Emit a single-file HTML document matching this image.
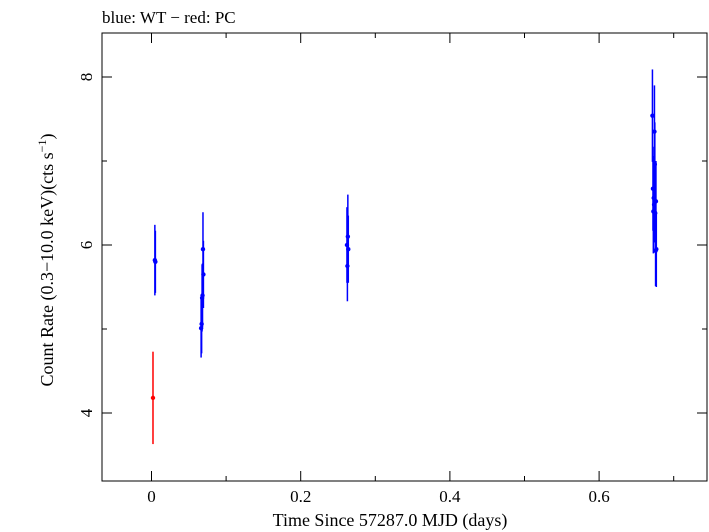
<!DOCTYPE html>
<html><head><meta charset="utf-8"><style>
body{margin:0;background:#fff;}
svg{display:block;font-family:"Liberation Serif",serif;}
</style></head><body>
<svg id="chart" width="709" height="532">
<text x="102" y="23" font-size="17">blue: WT − red: PC</text>
<rect x="102" y="33" width="605" height="448" fill="none" stroke="#000" stroke-width="1"/>
<g id="axes"></g>
<g id="marks"></g>
<text x="390" y="526" font-size="18" text-anchor="middle">Time Since 57287.0 MJD (days)</text>
<text transform="translate(53,260) rotate(-90)" font-size="18" text-anchor="middle">Count Rate (0.3−10.0 keV)(cts s<tspan dy="-7" font-size="12">−1</tspan><tspan dy="7">)</tspan></text>
</svg>
<script>
const wtTimes=[0.0045,0.0052,0.0665,0.0672,0.0678,0.0684,0.0690,0.0696,0.2620,0.2626,0.2632,0.2638,0.6715,0.6722,0.6727,0.6732,0.6737,0.6742,0.6747,0.6752,0.6757,0.6762,0.6767];
const wtRates=[5.82,5.80,5.01,5.06,5.37,5.40,5.95,5.65,6.00,5.75,6.10,5.95,7.54,6.67,6.40,6.56,6.48,7.35,6.96,6.38,5.93,6.52,5.95];
const wtErrs=[0.42,0.37,0.35,0.35,0.40,0.38,0.44,0.40,0.45,0.42,0.50,0.40,0.55,0.50,0.50,0.50,0.45,0.55,0.50,0.45,0.42,0.48,0.45];
const pcTimes=[0.0020];
const pcRates=[4.18];
const pcErrs=[0.55];
const xTicks=[0,0.2,0.4,0.6];
const xMinor=[0.1,0.3,0.5,0.7];
const yTicks=[4,6,8];
const yMinor=[5,7];
const NS="http://www.w3.org/2000/svg";
const X=v=>151.5+v*746;
const Y=v=>245-(v-6)*84;
const axes=document.getElementById('axes'), marks=document.getElementById('marks');
function mk(tag,attrs,parent){const e=document.createElementNS(NS,tag);for(const k in attrs)e.setAttribute(k,attrs[k]);parent.appendChild(e);return e;}
xTicks.concat(xMinor).forEach((t,i)=>{
 const x=X(t), len=i<xTicks.length?10:5;
 const a=mk('line',{x1:x,x2:x,y1:481,y2:481-len,stroke:'#000'},axes);
 
 
 const b=mk('line',{x1:x,x2:x,y1:33,y2:33+len,stroke:'#000'},axes);
 
 
});
xTicks.forEach(t=>{
 const l=mk('text',{x:X(t),y:502,'font-size':17,'text-anchor':'middle'},axes);
 l.textContent=String(t);
 
 
});
yTicks.concat(yMinor).forEach((t,i)=>{
 const y=Y(t), len=i<yTicks.length?10:5;
 const a=mk('line',{x1:102,x2:102+len,y1:y,y2:y,stroke:'#000'},axes);
 
 
 const b=mk('line',{x1:707-len,x2:707,y1:y,y2:y,stroke:'#000'},axes);
 
 
});
yTicks.forEach(t=>{
 const y=Y(t);
 const l=mk('text',{transform:`translate(92,${y}) rotate(-90)`,'font-size':17,'text-anchor':'middle'},axes);
 l.textContent=String(t);
 
 
});
function series(ts,rs,es,col,name){
 ts.forEach((t,i)=>{
  const x=X(t);
  const e=mk('line',{x1:x,x2:x,y1:Y(rs[i]+es[i]),y2:Y(rs[i]-es[i]),stroke:col,'stroke-width':1.5},marks);
  
  
  const c=mk('circle',{cx:x,cy:Y(rs[i]),r:2.2,fill:col},marks);
  
  
 });
}
series(wtTimes,wtRates,wtErrs,'#0000ff','wt');
series(pcTimes,pcRates,pcErrs,'#ff0000','pc');
</script>
</body></html>
